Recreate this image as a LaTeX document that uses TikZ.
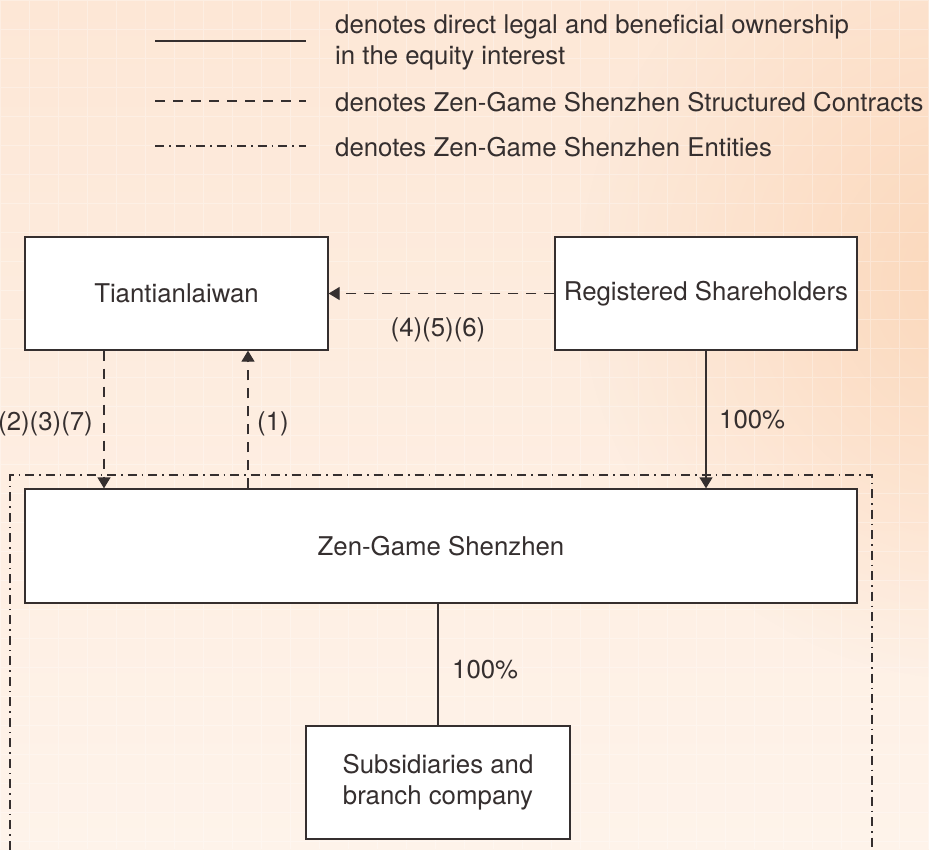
\documentclass[tikz,border=0pt]{standalone}
\usepackage{fontspec}
\setmainfont{TeX Gyre Heros}
\usetikzlibrary{arrows.meta,fadings}
\definecolor{ink}{HTML}{352F2F}
\definecolor{bgtop}{HTML}{FDE7D6}
\definecolor{bgmid}{HTML}{FDE4D1}
\definecolor{bgbot}{HTML}{FEF3EA}
\definecolor{glow}{HTML}{FBD2B1}
\tikzfading[name=glowfade, inner color=transparent!20, outer color=transparent!100]
\begin{document}
\begin{tikzpicture}[x=1pt,y=-1pt,
  font=\fontsize{25.8}{31}\selectfont,
  box/.style={draw=ink, line width=1.3pt, fill=white, minimum width=#1,
    minimum height=113pt, inner sep=0pt, text=ink, align=center},
  lbl/.style={text=ink, inner sep=0pt},
  solidline/.style={draw=ink, line width=1.3pt},
  dashline/.style={draw=ink, line width=1.3pt, dash pattern=on 10pt off 8pt},
  dotdash/.style={draw=ink, line width=1.3pt, dash pattern=on 9pt off 5pt on 1.5pt off 5pt},
  tip/.style={-{Triangle[length=11pt,width=13pt,sep=0pt,fill=ink]}}]
\useasboundingbox (0,0) rectangle (929,849);
\clip (0,0) rectangle (929,849);
% background
\shade[top color=bgtop, middle color=bgmid, bottom color=bgbot] (0,0) rectangle (929,849);
\fill[glow, path fading=glowfade] (980,280) circle (400pt);
\draw[white, opacity=0.3, line width=1pt, step=29pt] (0,0) grid (929,849);

% legend
\coordinate (l1a) at (155,41);  \coordinate (l1b) at (306,41);
\coordinate (l2a) at (155,101); \coordinate (l2b) at (306,101);
\coordinate (l3a) at (155,146); \coordinate (l3b) at (306,146);
\draw[solidline] (l1a) -- (l1b);
\draw[dashline] (l2a) -- (l2b);
\draw[dotdash] (l3a) -- (l3b);
\node[lbl, anchor=west, align=left] (t1) at (335,42) {denotes direct legal and beneficial ownership\\in the equity interest};
\node[lbl, anchor=base west] (t2) at (335,111) {denotes Zen-Game Shenzhen Structured Contracts};
\node[lbl, anchor=base west] (t3) at (335,156) {denotes Zen-Game Shenzhen Entities};

% entities boundary (open at the bottom)
\coordinate (e1) at (10,870); \coordinate (e2) at (10,475);
\coordinate (e3) at (872,475); \coordinate (e4) at (872,870);
\draw[dotdash] (e1) -- (e2) -- (e3) -- (e4);

% boxes
\node[box=303pt] (TT) at (176.5,293.5) {Tiantianlaiwan};
\node[box=302pt] (RS) at (706,293.5) {Registered Shareholders};
\node[box=832pt, minimum height=114pt] (ZG) at (441,546) {Zen-Game Shenzhen};
\node[box=264pt] (SB) at (438,782.5) {Subsidiaries and\\branch company};

% connectors
\coordinate (d1) at ([xshift=-72.5pt]TT.south);
\coordinate (u1) at ([xshift=71.5pt]TT.south);
\coordinate (s1) at ([xshift=-3pt]ZG.south);
\draw[dashline, tip] (RS.west) -- (TT.east);
\draw[dashline, tip] (d1) -- (d1 |- ZG.north);
\draw[dashline, tip] (u1 |- ZG.north) -- (u1);
\draw[solidline, tip] (RS.south) -- (RS.south |- ZG.north);
\draw[solidline] (s1) -- (s1 |- SB.north);

% labels
\node[lbl, anchor=base] (c456) at (438,336) {(4)(5)(6)};
\node[lbl, anchor=base east] (c237) at (93,430) {(2)(3)(7)};
\node[lbl, anchor=base west] (c1) at (257,430) {(1)};
\node[lbl, anchor=base west] (p1) at (719,428) {100\%};
\node[lbl, anchor=base west] (p2) at (452,678) {100\%};
\end{tikzpicture}
\end{document}
